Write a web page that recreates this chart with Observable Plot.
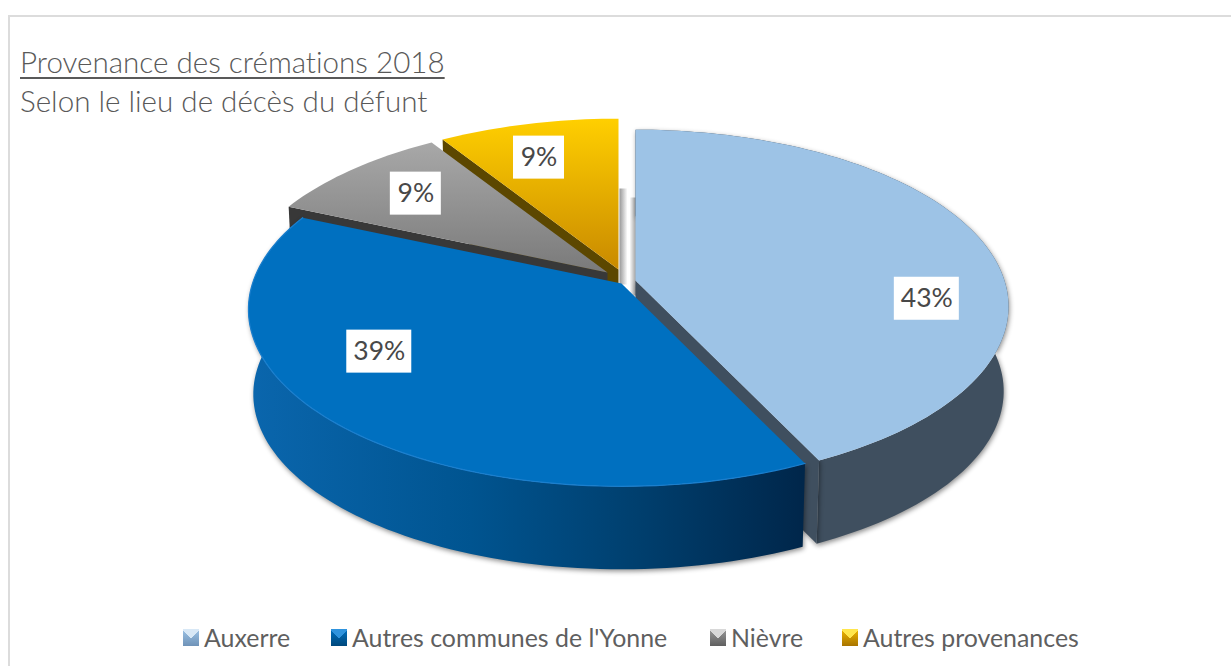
<!DOCTYPE html>
<html lang="fr">
<head>
<meta charset="utf-8">
<script src="https://cdn.jsdelivr.net/npm/d3@7"></script>
<script src="https://cdn.jsdelivr.net/npm/@observablehq/plot@0.6"></script>
<style>
  html, body { margin: 0; padding: 0; background: #fff; }
  #frame { position: relative; width: 1231px; height: 666px; overflow: hidden; background: #fff;
           font-family: Lato, "Open Sans", sans-serif; color: #595959; font-variant-ligatures: none; }
  #frame::before { content: ""; position: absolute; left: 8px; top: 15px; right: -10px; bottom: -10px;
           border: 2.5px solid #dcdcdc; pointer-events: none; }
  #head { position: relative; height: 118px; }
  #head h1, #head h2 { position: absolute; left: 20px; margin: 0; font-weight: 300; font-size: 29.6px; line-height: 36px; white-space: nowrap; }
  #head h1 { top: 44px; text-decoration: underline; text-decoration-thickness: 1.5px; text-underline-offset: 4px; }
  #head h2 { top: 83px; }
  #chart svg { display: block; }
  #legend { position: absolute; top: 621px; left: 0; width: 100%; height: 32px; font-size: 24.9px; line-height: 32px; color: #5f5f5f; }
  #legend .item { position: absolute; top: 0; white-space: nowrap; }
  #legend i { position: absolute; left: -21px; top: 8px; width: 16px; height: 17px; }
</style>
</head>
<body>
<div id="frame">
  <div id="head">
    <h1>Provenance des crémations 2018</h1>
    <h2>Selon le lieu de décès du défunt</h2>
  </div>
  <div id="chart"></div>
  <div id="legend"></div>
</div>
<script>
// ---------- data ----------
const categories = ["Auxerre", "Autres communes de l'Yonne", "Nièvre", "Autres provenances"];
const shares = [42.9, 38.7, 9.4, 9.0];
const labels = ["43%", "39%", "9%", "9%"];

// ---------- styles ----------
const topFills = ["#9dc3e6", "#0070c0", "url(#topGray)", "url(#topGold)"];
const wallFills = ["#3f4f5f", "url(#wallBlue)", "#383838", "#5c4700"];
const legendBackgrounds = [
  ["#d8e8f6", "#9dc3e6", "#6f93b8"],
  ["#2f93dd", "#0070c0", "#00487c"],
  ["#d8d8d8", "#9a9a9a", "#5f5f5f"],
  ["#ffe64d", "#f0b800", "#a87400"]
];

// ---------- pie layout (pixel frame of the page) ----------
const layout = {
  k: 0.147, rx: 369, ry: 173,             // perspective and radii of the top face
  depth: 85, baseX: 0.987, baseY: 0.99,   // extrusion towards the base
  centre: [635, 280],
  explode: [[0, 0], [-14, 3], [-28, -8], [-17, -11]],
  labelRho: 0.77,
  labelNudge: [[21, 47], [-27, -36], [9, 2], [-8, 3.5]],
  legendLeft: [204, 352, 731, 863]
};

// ---------- geometry, all derived from the shares ----------
const cum = d3.cumsum(shares);
const total = cum[cum.length - 1];
const slices = categories.map((name, i) => ({
  name, i, label: labels[i],
  a0: (i ? cum[i - 1] : 0) / total,
  a1: cum[i] / total,
  apex: [layout.centre[0] + layout.explode[i][0], layout.centre[1] + layout.explode[i][1]]
}));
function project(s, frac, rho = 1) {
  const t = 2 * Math.PI * frac, u = rho * Math.sin(t), v = -rho * Math.cos(t), w = 1 - layout.k * v;
  return { x: s.apex[0] + layout.rx * u / w, y: s.apex[1] + layout.ry * v / w };
}
function down(s, p) {
  return { x: s.apex[0] + (p.x - s.apex[0]) * layout.baseX, y: s.apex[1] + (p.y - s.apex[1]) * layout.baseY + layout.depth };
}
function arc(s) {
  const n = Math.max(8, Math.ceil((s.a1 - s.a0) * 240));
  return d3.range(n + 1).map(j => project(s, s.a0 + (s.a1 - s.a0) * j / n));
}
const apexPoint = s => ({ x: s.apex[0], y: s.apex[1] });
const topFace = s => [apexPoint(s), ...arc(s)];
const outerWall = s => { const a = arc(s); return [...a, ...a.map(p => down(s, p)).reverse()]; };
// the cut wall under the edge at fraction f
const cutWall = (s, f) => { const e = project(s, f), o = apexPoint(s); return [o, e, down(s, e), down(s, o)]; };

const [auxerre, yonne, nievre, autres] = slices;
const poly = (points, fill, extra = {}) => Plot.line(points, { x: "x", y: "y", fill, stroke: "none", curve: "linear", ...extra });
const rim = (s, stroke) => Plot.line(arc(s), { x: "x", y: "y", stroke, strokeWidth: 1.2, curve: "linear" });

const softShadow = "drop-shadow(1px 2px 2.5px rgba(0,0,0,0.45))";

// shadows in the gap between gold and light blue
const gapStrip = (s, dx0, dx1, dy0, dy1) => [
  { x: s.apex[0] + dx0, y: s.apex[1] + dy0 }, { x: s.apex[0] + dx1, y: s.apex[1] + dy0 },
  { x: s.apex[0] + dx1, y: s.apex[1] + dy1 }, { x: s.apex[0] + dx0, y: s.apex[1] + dy1 }
];

const labelData = slices.map(s => {
  const p = project(s, (s.a0 + s.a1) / 2, layout.labelRho), nudge = layout.labelNudge[s.i];
  const half = s.label.length > 2 ? 32.5 : 25.5;
  return { label: s.label, x: p.x + nudge[0], y: p.y + nudge[1], x1: p.x + nudge[0] - half, x2: p.x + nudge[0] + half,
           y1: p.y + nudge[1] - 21.5, y2: p.y + nudge[1] + 21.5 };
});

const defs = () => {
  const g = d3.create("svg:defs");
  const grad = (id, x2, y2, stops) => {
    const l = g.append("linearGradient").attr("id", id).attr("x1", 0).attr("y1", 0).attr("x2", x2).attr("y2", y2);
    stops.forEach(([o, c]) => l.append("stop").attr("offset", o).attr("stop-color", c));
  };
  grad("topGray", 0, 1, [[0, "#a8a8a8"], [1, "#7a7a7a"]]);
  grad("topGold", 0, 1, [[0, "#ffcf00"], [1, "#c98a00"]]);
  grad("wallBlue", 1, 0, [[0, "#0a66ad"], [0.4, "#005490"], [0.7, "#003f6e"], [1, "#00264a"]]);
  grad("gapL", 1, 0, [[0, "#989898"], [1, "#ffffff"]]);
  grad("gapR", 1, 0, [[0, "#ffffff"], [1, "#969696"]]);
  return g.node();
};

const plot = Plot.plot({
  width: 1231, height: 492,
  marginTop: 0, marginRight: 0, marginBottom: 0, marginLeft: 0,
  style: { background: "transparent", overflow: "visible" },
  x: { domain: [0, 1231], range: [0, 1231], axis: null },
  y: { domain: [118, 610], range: [0, 492], axis: null },
  marks: [
    defs,
    poly(gapStrip(autres, 1, 9, -81, 15), "url(#gapL)"),
    poly(gapStrip(auxerre, -6, 1, -83, 15), "url(#gapR)"),
    poly(cutWall(autres, autres.a0), wallFills[3]),
    poly(topFace(autres), topFills[3]),
    poly(cutWall(nievre, nievre.a0), wallFills[2]),
    poly(topFace(nievre), topFills[2]),
    poly(outerWall(auxerre), wallFills[0], { imageFilter: softShadow }),
    poly(cutWall(auxerre, auxerre.a1), wallFills[0], { imageFilter: softShadow }),
    poly(topFace(auxerre), topFills[0]),
    poly(outerWall(yonne), wallFills[1], { imageFilter: softShadow }),
    poly(topFace(yonne), topFills[1]),
    rim(yonne, "#1b7fce"),
    Plot.rect(labelData, { x1: "x1", x2: "x2", y1: "y1", y2: "y2", fill: "white" }),
    Plot.text(labelData, { x: "x", y: "y", text: "label", fontSize: 26.5, fontWeight: 400, fill: "#484848", fontFamily: "Lato, 'Open Sans', sans-serif" })
  ]
});
document.getElementById("chart").append(plot);

// ---------- legend ----------
const legend = document.getElementById("legend");
categories.forEach((name, i) => {
  const item = document.createElement("div");
  item.className = "item";
  item.style.left = layout.legendLeft[i] + "px";
  const icon = document.createElement("i");
  const [hi, mid, lo] = legendBackgrounds[i];
  icon.style.background =
    `conic-gradient(from -45deg at 50% 55%, ${hi} 0 90deg, transparent 90deg 360deg), linear-gradient(to bottom, ${mid}, ${lo})`;
  item.append(icon, document.createTextNode(name));
  legend.append(item);
});
</script>
</body>
</html>
